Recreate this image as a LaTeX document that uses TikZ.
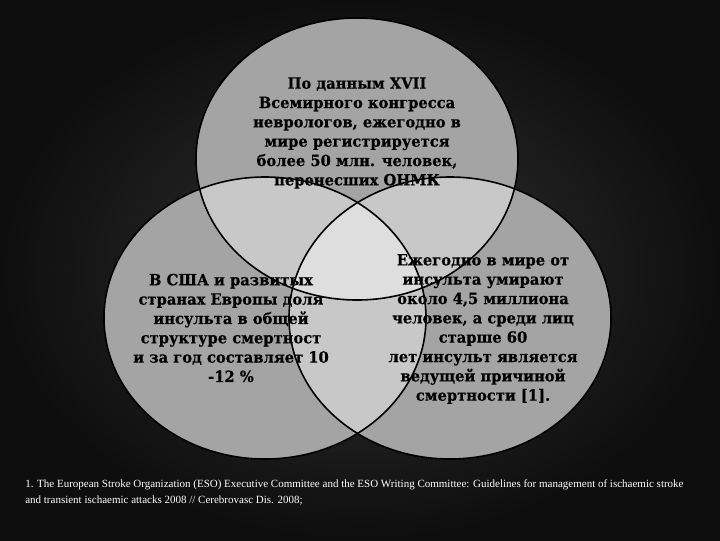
\documentclass[tikz,border=0pt]{standalone}
\usepackage{fontspec}
\setmainfont{Liberation Serif}
\newfontfamily\bodyfont[FakeStretch=0.95, BoldFeatures={FakeBold=0.5}]{DejaVu Serif}
\definecolor{bgin}{RGB}{50,50,50}
\definecolor{bgout}{RGB}{14,14,14}
\definecolor{single}{RGB}{164,164,164}
\definecolor{pair}{RGB}{200,200,200}
\definecolor{triple}{RGB}{222,222,222}
\tikzset{
  ellT/.style={insert path={(357,159) ellipse [x radius=120.75pt, y radius=105.75pt]}},
  ellL/.style={insert path={(265,318) ellipse [x radius=120.75pt, y radius=105.75pt]}},
  ellR/.style={insert path={(450,318) ellipse [x radius=120.75pt, y radius=105.75pt]}},
  rim/.style={draw=black, line width=1.2pt},
  txt/.style={align=center, inner sep=0pt, text=black, font=\bodyfont\bfseries\fontsize{11.6}{14.5}\selectfont},
  foot/.style={align=left, inner sep=0pt, text=white, font=\fontsize{8.25}{12}\selectfont}
}
\begin{document}
\begin{tikzpicture}[x=0.75pt,y=-0.75pt]
\useasboundingbox (0,0) rectangle (720,540);
\shade[inner color=bgin, outer color=bgout] (0,0) rectangle (720,540);
% single fills
\fill[single, ellT];
\fill[single, ellL];
\fill[single, ellR];
% pairwise
\begin{scope}
  \clip[ellT];
  \fill[pair, ellL];
  \fill[pair, ellR];
\end{scope}
\begin{scope}
  \clip[ellL];
  \fill[pair, ellR];
\end{scope}
% triple
\begin{scope}
  \clip[ellT];
  \clip[ellL];
  \fill[triple, ellR];
\end{scope}
% texts
\node[txt] (top) at (357,133) {По данным XVII\\Всемирного конгресса\\неврологов, ежегодно в\\мире регистрируется\\более 50 млн. человек,\\перенесших ОНМК};
\node[txt] (left) at (231,328) {В США и развитых\\странах Европы доля\\инсульта в общей\\структуре смертност\\и за год составляет 10\\-12 \%};
\node[txt] (right) at (483,329) {Ежегодно в мире от\\инсульта умирают\\около 4,5 миллиона\\человек, а среди лиц\\старше 60\\лет инсульт является\\ведущей причиной\\смертности [1].};
% outlines
\draw[rim, ellT];
\draw[rim, ellL];
\draw[rim, ellR];
% footnote
\node[foot, anchor=north west] (note) at (25,479) {1. The European Stroke Organization (ESO) Executive Committee and the ESO Writing Committee: Guidelines for management of ischaemic stroke\\and transient ischaemic attacks 2008 // Cerebrovasc Dis. 2008;};
\end{tikzpicture}
\end{document}
